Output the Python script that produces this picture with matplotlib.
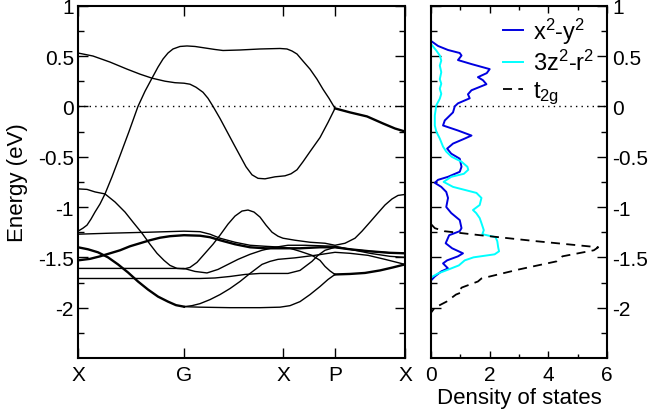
import matplotlib
matplotlib.use("Agg")
import matplotlib.pyplot as plt
from matplotlib.ticker import FixedLocator, FuncFormatter

plt.rcParams['font.family'] = ['Liberation Sans', 'DejaVu Sans']
plt.rcParams['mathtext.fontset'] = 'custom'
plt.rcParams['mathtext.rm'] = 'Liberation Sans'
plt.rcParams['mathtext.it'] = 'Liberation Sans:italic'
plt.rcParams['axes.unicode_minus'] = False

# ---------------- data ----------------
kpath_labels = ["X", "G", "X", "P", "X"]
kpath_pos = [0, 106, 205, 257, 327]
fermi = 0.0

band_a_k = [0, 15, 32, 49, 62, 74, 87, 97, 106, 112, 118, 125, 130, 135, 142, 149, 156, 162, 168, 174, 180, 187, 197, 207, 213, 219, 225, 232, 242, 250, 257]
band_a_E = [0.53, 0.50, 0.44, 0.37, 0.32, 0.28, 0.25, 0.235, 0.23, 0.22, 0.19, 0.14, 0.08, 0.00, -0.12, -0.25, -0.38, -0.49, -0.60, -0.68, -0.715, -0.72, -0.70, -0.69, -0.67, -0.63, -0.55, -0.45, -0.31, -0.16, -0.02]

band_b_k = [0, 5, 9, 13, 17, 22, 27, 34, 42, 51, 60, 67, 74, 80, 85, 90, 95, 102, 109, 117, 127, 137, 145, 162, 182, 202, 209, 214, 219, 225, 232, 239, 245, 251, 257]
band_b_E = [-1.24, -1.21, -1.18, -1.12, -1.05, -0.97, -0.87, -0.70, -0.49, -0.25, 0.0, 0.15, 0.28, 0.39, 0.47, 0.53, 0.57, 0.595, 0.60, 0.595, 0.58, 0.565, 0.555, 0.56, 0.57, 0.575, 0.57, 0.55, 0.52, 0.45, 0.37, 0.27, 0.17, 0.08, -0.02]

band_top_k = [257, 272, 289, 305, 317, 327]
band_top_E = [-0.02, -0.06, -0.10, -0.17, -0.22, -0.25]

band_c_k = [0, 9, 17, 27, 37, 47, 55, 64, 72, 79, 86, 92, 99, 106, 112, 119, 127, 135, 142, 150, 157, 164, 170, 176, 182, 188, 194, 200, 205, 217, 232, 247, 257, 267, 277, 284, 292, 299, 307, 314, 320, 327]
band_c_E = [-0.82, -0.825, -0.85, -0.87, -0.95, -1.05, -1.15, -1.26, -1.37, -1.46, -1.53, -1.58, -1.61, -1.615, -1.60, -1.55, -1.46, -1.37, -1.28, -1.17, -1.09, -1.04, -1.03, -1.05, -1.10, -1.18, -1.25, -1.29, -1.31, -1.33, -1.35, -1.36, -1.38, -1.36, -1.31, -1.24, -1.15, -1.07, -0.98, -0.92, -0.885, -0.875]

band_f_k = [0, 32, 72, 106, 122, 132, 142, 157, 172, 187, 205, 212, 222, 234, 242, 247, 252, 257]
band_f_E = [-1.27, -1.26, -1.25, -1.24, -1.245, -1.27, -1.31, -1.35, -1.38, -1.39, -1.40, -1.41, -1.44, -1.48, -1.53, -1.59, -1.635, -1.67]

band_t1_k = [0, 12, 22, 32, 42, 52, 62, 72, 82, 92, 106, 122, 132, 142, 157, 172, 187, 205, 222, 242, 257, 272, 292, 312, 327]
band_t1_E = [-1.53, -1.515, -1.49, -1.46, -1.43, -1.39, -1.36, -1.33, -1.305, -1.29, -1.28, -1.285, -1.30, -1.33, -1.37, -1.40, -1.41, -1.41, -1.41, -1.40, -1.40, -1.42, -1.44, -1.455, -1.46]

band_t2_k = [0, 10, 20, 30, 40, 50, 60, 70, 80, 90, 98, 106]
band_t2_E = [-1.40, -1.42, -1.45, -1.50, -1.57, -1.65, -1.74, -1.82, -1.89, -1.94, -1.975, -1.99]

band_t2a_k = [106, 122, 152, 182, 202, 212, 222, 232, 242, 250, 257]
band_t2a_E = [-1.99, -1.995, -2.0, -2.0, -1.995, -1.98, -1.94, -1.87, -1.79, -1.72, -1.67]

band_low_k = [257, 272, 287, 302, 315, 327]
band_low_E = [-1.67, -1.665, -1.655, -1.63, -1.60, -1.57]

band_t2b_k = [106, 114, 122, 132, 142, 152, 162, 172, 184, 192, 200, 217, 237, 257, 272, 290, 307, 327]
band_t2b_E = [-1.99, -1.98, -1.96, -1.92, -1.87, -1.81, -1.74, -1.66, -1.57, -1.54, -1.52, -1.505, -1.48, -1.45, -1.46, -1.48, -1.52, -1.57]

band_l1_k = [0, 52, 106, 117, 129, 140, 150, 160, 172, 184, 197, 210, 227, 242, 257, 272, 292, 312, 327]
band_l1_E = [-1.61, -1.61, -1.61, -1.64, -1.655, -1.62, -1.57, -1.52, -1.47, -1.43, -1.40, -1.38, -1.38, -1.385, -1.39, -1.42, -1.46, -1.49, -1.50]

band_l2_k = [0, 106, 122, 137, 152, 167, 182, 197, 210, 222, 234, 240, 247, 257, 272, 292, 312, 327]
band_l2_E = [-1.71, -1.71, -1.71, -1.705, -1.69, -1.67, -1.66, -1.66, -1.66, -1.63, -1.54, -1.48, -1.43, -1.40, -1.42, -1.44, -1.455, -1.46]

# density of states (energy, value)
dos_x2y2_E = [0.65, 0.60, 0.56, 0.53, 0.505, 0.46, 0.42, 0.37, 0.33, 0.29, 0.26, 0.22, 0.16, 0.12, 0.08, 0.03, 0.0, -0.06, -0.14, -0.19, -0.24, -0.29, -0.32, -0.37, -0.42, -0.47, -0.52, -0.60, -0.65, -0.70, -0.73, -0.76, -0.80, -0.85, -0.91, -1.00, -1.06, -1.13, -1.21, -1.24, -1.28, -1.36, -1.41, -1.46, -1.49, -1.53, -1.56, -1.61, -1.64, -1.69, -1.73]
dos_x2y2 = [0.0, 0.24, 0.58, 0.98, 1.04, 0.92, 1.38, 2.0, 1.9, 1.6, 1.77, 1.89, 1.38, 1.26, 1.32, 0.92, 0.81, 0.75, 0.47, 0.41, 0.92, 1.38, 1.15, 0.75, 0.55, 0.69, 0.98, 1.04, 0.98, 0.58, 0.24, 0.13, 0.35, 0.52, 0.58, 0.52, 0.69, 0.98, 1.04, 0.98, 0.62, 0.50, 0.72, 1.09, 0.92, 0.55, 0.41, 0.58, 0.35, 0.13, 0.0]

dos_3z2_E = [0.62, 0.555, 0.505, 0.455, 0.405, 0.34, 0.27, 0.225, 0.175, 0.125, 0.076, 0.01, -0.09, -0.19, -0.25, -0.32, -0.40, -0.45, -0.50, -0.55, -0.60, -0.63, -0.67, -0.70, -0.75, -0.80, -0.83, -0.86, -0.91, -0.98, -1.03, -1.06, -1.11, -1.16, -1.23, -1.27, -1.30, -1.34, -1.40, -1.44, -1.47, -1.50, -1.53, -1.58, -1.62, -1.66, -1.70]
dos_3z2 = [0.0, 0.18, 0.30, 0.35, 0.30, 0.35, 0.30, 0.35, 0.30, 0.35, 0.30, 0.18, 0.13, 0.13, 0.18, 0.30, 0.41, 0.52, 0.70, 1.04, 1.24, 1.27, 1.12, 0.69, 0.43, 0.75, 1.15, 1.55, 1.72, 1.66, 1.43, 1.54, 1.66, 1.72, 1.80, 1.75, 2.2, 2.26, 2.29, 2.32, 2.17, 1.45, 1.15, 0.95, 0.6, 0.24, 0.0]

dos_t2g_E = [-1.17, -1.21, -1.24, -1.28, -1.34, -1.40, -1.43, -1.49, -1.54, -1.62, -1.71, -1.74, -1.80, -1.83, -1.85, -1.87, -1.94, -2.00, -2.05]
dos_t2g = [0.0, 0.13, 0.45, 1.67, 3.6, 5.7, 5.55, 4.48, 4.28, 3.0, 1.72, 1.6, 1.05, 0.95, 1.02, 0.85, 0.53, 0.13, 0.0]

legend_labels = ["x$^2$-y$^2$", "3z$^2$-r$^2$", "t$_{\\mathrm{2g}}$"]

# ---------------- figure ----------------
W, H = 648, 414
fig = plt.figure(figsize=(W / 100, H / 100), dpi=100)
ax1 = fig.add_axes([78 / W, 1 - 359 / H, (405 - 78) / W, (359 - 6.7) / H])
ax2 = fig.add_axes([431 / W, 1 - 359 / H, (607 - 431) / W, (359 - 6.7) / H])

thin = dict(color="black", lw=1.0, solid_joinstyle="round")
thick = dict(color="black", lw=1.7, solid_joinstyle="round")

for k, e in [(band_a_k, band_a_E), (band_b_k, band_b_E), (band_c_k, band_c_E),
             (band_f_k, band_f_E), (band_t2a_k, band_t2a_E), (band_t2b_k, band_t2b_E),
             (band_l1_k, band_l1_E), (band_l2_k, band_l2_E)]:
    ax1.plot(k, e, **thin)
for k, e in [(band_top_k, band_top_E), (band_t1_k, band_t1_E), (band_t2_k, band_t2_E),
             (band_low_k, band_low_E)]:
    ax1.plot(k, e, **thick)

dotted = dict(color="black", lw=1.0, ls=(0, (1, 3)))
ax1.axhline(fermi, **dotted)
ax2.axhline(fermi, **dotted)

l1, = ax2.plot(dos_x2y2, dos_x2y2_E, color="#0000e0", lw=1.4)
l2, = ax2.plot(dos_3z2, dos_3z2_E, color="#00ffff", lw=1.4)
l3, = ax2.plot(dos_t2g, dos_t2g_E, color="black", lw=1.3, ls=(0, (5, 3.5)))

ax1.set_xlim(kpath_pos[0], kpath_pos[-1])
for ax in (ax1, ax2):
    ax.set_ylim(-2.5, 1.0)
    ax.yaxis.set_major_locator(FixedLocator([-2, -1.5, -1, -0.5, 0, 0.5, 1]))
    ax.yaxis.set_minor_locator(FixedLocator([-2.25, -1.75, -1.25, -0.75, -0.25, 0.25, 0.75]))
    ax.yaxis.set_major_formatter(FuncFormatter(lambda v, p: "%g" % v))
    for s in ax.spines.values():
        s.set_linewidth(1.5)
    ax.tick_params(which="both", direction="in", left=True, right=True, top=True,
                   bottom=True, width=1.0, labelsize=15)
    ax.tick_params(which="major", length=7)
    ax.tick_params(which="minor", length=4)

ax1.set_xticks(kpath_pos)
ax1.set_xticklabels(kpath_labels)
ax1.tick_params(axis="x", pad=5)
ax1.tick_params(axis="y", pad=3)
ax1.set_ylabel("Energy (eV)", fontsize=16, labelpad=7)

ax2.set_xlim(0, 6)
ax2.xaxis.set_major_locator(FixedLocator([0, 2, 4, 6]))
ax2.xaxis.set_minor_locator(FixedLocator([1, 3, 5]))
ax2.tick_params(axis="y", labelleft=False, labelright=True, pad=4)
ax2.tick_params(axis="x", which="major", length=5, pad=5)
ax2.tick_params(axis="x", which="minor", length=3)
ax2.set_xlabel("Density of states", fontsize=16, labelpad=2)

ax2.legend([l1, l2, l3], legend_labels, loc="upper left", bbox_to_anchor=(0.41, 0.972),
           frameon=False, fontsize=17, handlelength=0.85, handletextpad=0.4,
           borderpad=0, borderaxespad=0, labelspacing=0.18)

fig.savefig("out.png", dpi=100)
